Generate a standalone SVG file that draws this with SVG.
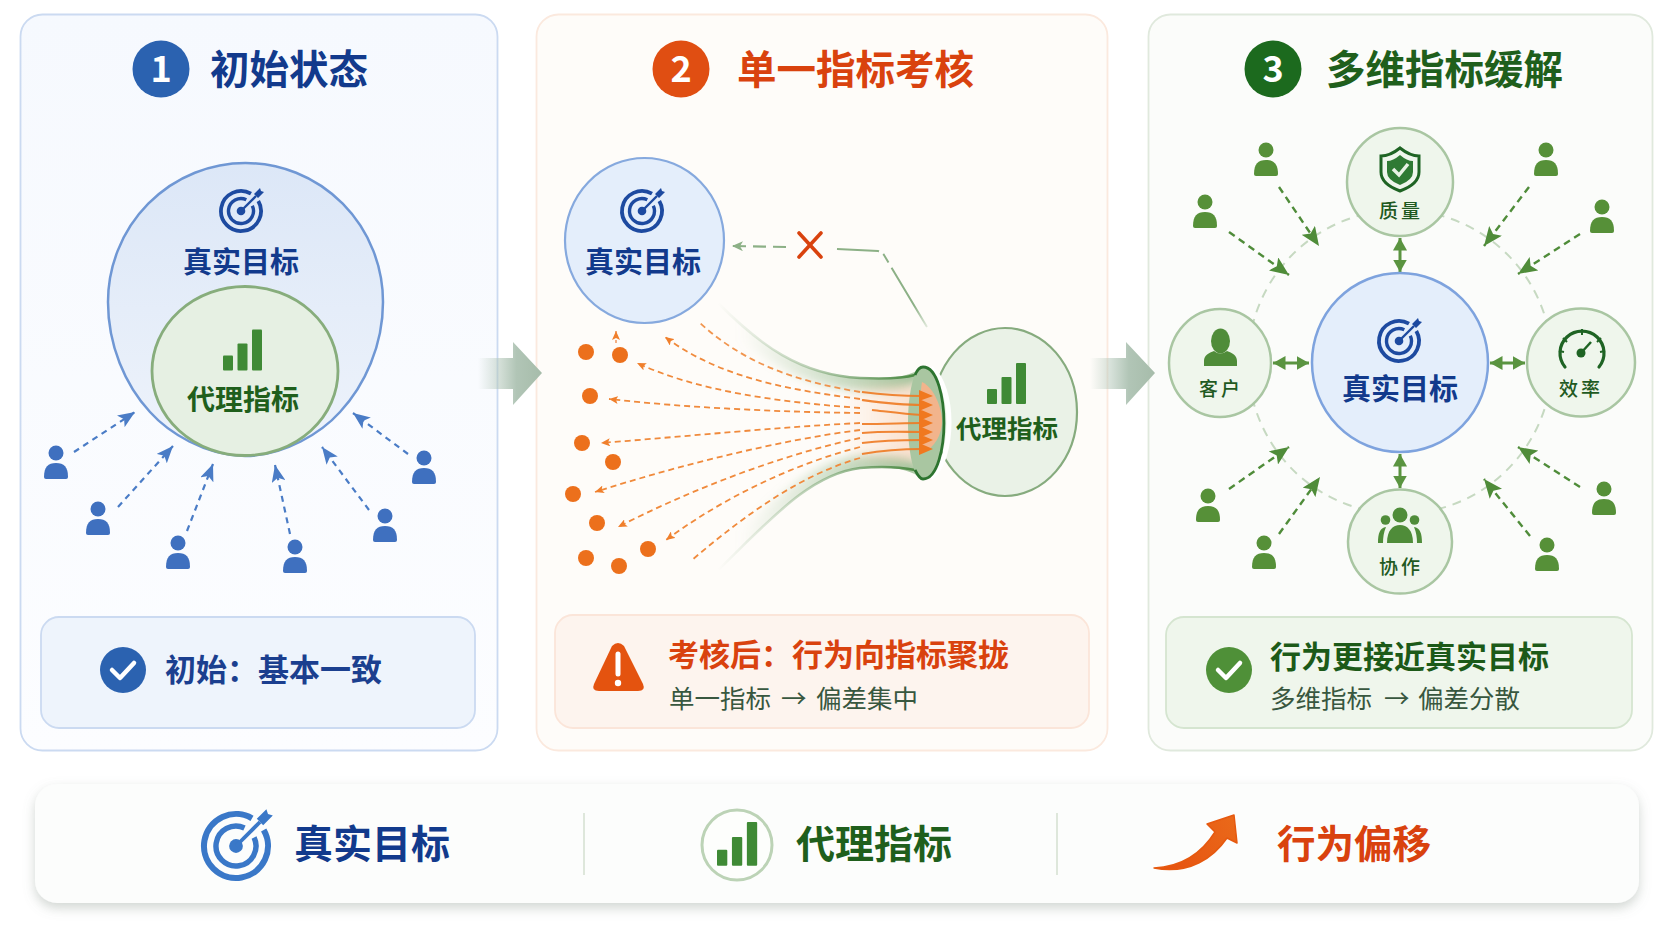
<svg xmlns="http://www.w3.org/2000/svg" width="1672" height="941" viewBox="0 0 1672 941">
<style>
text{font-family:"Noto Sans CJK SC","Noto Sans",sans-serif;font-weight:700}
.c{text-anchor:middle}
.num{font-size:36px;fill:#fff}
.navy{fill:#123a8c}.dgreen{fill:#1f5f1c}.red{fill:#d9420e}
.t1{font-size:39.5px}.t2{font-size:29px}.t3{font-size:31px}
.sub{font-size:25.5px;font-weight:400;fill:#38573f}
.sat{font-size:19px;letter-spacing:3px;font-weight:500;fill:#1f5a22}
.pb{color:#3f70bf}.pg{color:#569038}
.lb{fill:none;stroke:#4a7cc6;stroke-width:2.2;stroke-dasharray:6 5;marker-end:url(#ab)}
.lg{fill:none;stroke:#4f8c39;stroke-width:2.4;stroke-dasharray:7 5;marker-end:url(#ag)}
.lo{fill:none;stroke:#f08a3c;stroke-width:1.800;stroke-dasharray:6 4}
.so{fill:none;stroke:#ee7a22;stroke-width:2.1;opacity:.9}
.dbl{fill:none;stroke:#5a9440;stroke-width:3;marker-start:url(#ad);marker-end:url(#ad)}
.sc{fill:#eff6ec;stroke:#a9c6a2;stroke-width:2.5}
.dot{fill:#ec701c}
</style>
<defs>
<linearGradient id="g1" x1="0" y1="0" x2="0" y2="1"><stop offset="0" stop-color="#f6f9fe"/><stop offset="1" stop-color="#fcfdff"/></linearGradient>
<linearGradient id="blob" x1="0" y1="0" x2="0" y2="1"><stop offset="0" stop-color="#dce7f7"/><stop offset="1" stop-color="#eef3fb"/></linearGradient>
<linearGradient id="pa1" gradientUnits="userSpaceOnUse" x1="478" y1="0" x2="542" y2="0"><stop offset="0" stop-color="#b4c8bb" stop-opacity="0"/><stop offset=".6" stop-color="#b1c5b6"/><stop offset="1" stop-color="#a6bcaa"/></linearGradient>
<linearGradient id="pa2" gradientUnits="userSpaceOnUse" x1="1090" y1="0" x2="1155" y2="0"><stop offset="0" stop-color="#b4c8bb" stop-opacity="0"/><stop offset=".6" stop-color="#b1c5b6"/><stop offset="1" stop-color="#a6bcaa"/></linearGradient>
<linearGradient id="edge" gradientUnits="userSpaceOnUse" x1="718" y1="0" x2="916" y2="0"><stop offset="0" stop-color="#7fa878" stop-opacity="0"/><stop offset=".45" stop-color="#7fa878" stop-opacity=".5"/><stop offset="1" stop-color="#4b8a43"/></linearGradient>
<linearGradient id="band" gradientUnits="userSpaceOnUse" x1="740" y1="0" x2="916" y2="0"><stop offset="0" stop-color="#a9c8a2" stop-opacity="0"/><stop offset="1" stop-color="#a3c29b"/></linearGradient>
<linearGradient id="glow" gradientUnits="userSpaceOnUse" x1="840" y1="0" x2="925" y2="0"><stop offset="0" stop-color="#f6b488" stop-opacity="0"/><stop offset="1" stop-color="#f3b48a" stop-opacity=".45"/></linearGradient>
<linearGradient id="link" gradientUnits="userSpaceOnUse" x1="837" y1="249" x2="927" y2="327"><stop offset="0" stop-color="#8cb086"/><stop offset=".8" stop-color="#8cb086"/><stop offset="1" stop-color="#8cb086" stop-opacity=".25"/></linearGradient>
<linearGradient id="swoosh" gradientUnits="userSpaceOnUse" x1="1155" y1="869" x2="1238" y2="815"><stop offset="0" stop-color="#e6500f"/><stop offset="1" stop-color="#ea6a1a"/></linearGradient>
<filter id="soft" x="-20%" y="-20%" width="140%" height="140%"><feGaussianBlur stdDeviation="5"/></filter>
<filter id="lift" x="-5%" y="-20%" width="110%" height="150%"><feDropShadow dx="0" dy="5" stdDeviation="6" flood-color="#7c8a80" flood-opacity=".35"/></filter>
<clipPath id="funnelClip"><path d="M718,303C760,345 800,375 860,378C885,379 905,378 918,370L918,476C905,468 885,466 860,468C810,474 770,520 718,570Z"/></clipPath>
<marker id="ab" markerUnits="userSpaceOnUse" markerWidth="18" markerHeight="14" refX="17" refY="7" orient="auto"><path d="M0,0L17,7L0,14L4,7Z" fill="#4a7cc6"/></marker>
<marker id="ag" markerUnits="userSpaceOnUse" markerWidth="20" markerHeight="16" refX="19" refY="8" orient="auto"><path d="M0,0L19,8L0,16L4,8Z" fill="#4f8c39"/></marker>
<marker id="ad" markerUnits="userSpaceOnUse" markerWidth="13" markerHeight="14" refX="12.500" refY="7" orient="auto-start-reverse"><path d="M0,0L12.500,7L0,14Z" fill="#5a9440"/></marker>
<marker id="ao" markerUnits="userSpaceOnUse" markerWidth="10" markerHeight="8" refX="9" refY="4" orient="auto"><path d="M0,0L9,4L0,8L2,4Z" fill="#f07f2c"/></marker>
<marker id="ax" markerUnits="userSpaceOnUse" markerWidth="12" markerHeight="10" refX="11" refY="5" orient="auto"><path d="M0,0L11,5L0,10L3,5Z" fill="#8cb086"/></marker>
<g id="person"><circle r="7.500" fill="currentColor"/><path d="M-12,24C-12,14 -8,10 0,10C8,10 12,14 12,24Q12,26 10,26H-10Q-12,26 -12,24Z" fill="currentColor"/></g>
<g id="target" fill="none" stroke="currentColor">
<path d="M10,-17.300A20,20 0 1 0 17.300,-10" stroke-width="3.800"/>
<path d="M5.300,-11.300A12.500,12.500 0 1 0 11.300,-5.300" stroke-width="3.400"/>
<circle r="4.300" fill="currentColor" stroke="none"/>
<path d="M0,0L15,-15" stroke-width="2.400"/>
<path d="M13,-17L19,-23L20,-20L23,-19L17,-13Z" fill="currentColor" stroke="none"/>
</g>
<g id="bars" fill="#3f8a35"><rect x="0" y="26" width="10" height="15" rx="1"/><rect x="14.500" y="14" width="10" height="27" rx="1"/><rect x="29" y="0" width="10" height="41" rx="1"/></g>
</defs>

<rect width="1672" height="941" fill="#fff"/>

<!-- column backgrounds -->
<rect id="panel-1" x="20.500" y="14.500" width="477" height="736" rx="22" fill="url(#g1)" stroke="#cbdaf1" stroke-width="1.800"/>
<rect id="panel-2" x="536.500" y="14.500" width="571" height="736" rx="22" fill="#fefcf9" stroke="#fbe9de" stroke-width="1.800"/>
<rect id="panel-3" x="1148.500" y="14.500" width="504" height="736" rx="22" fill="#fbfcfa" stroke="#e0e9dd" stroke-width="1.800"/>

<!-- column headers -->
<g id="head-1"><circle cx="161" cy="69" r="28.500" fill="#2b62b0"/><text class="c num" x="161" y="82">1</text><text class="navy t1" x="210" y="84">初始状态</text></g>
<g id="head-2"><circle cx="681" cy="69" r="28.500" fill="#e04e12"/><text class="c num" x="681" y="82">2</text><text class="red t1" x="737" y="84">单一指标考核</text></g>
<g id="head-3"><circle cx="1273" cy="69" r="28.500" fill="#1c6a1e"/><text class="c num" x="1273" y="82">3</text><text class="dgreen t1" x="1326" y="84">多维指标缓解</text></g>

<!-- transition arrows between columns -->
<g id="step-1-2"><path d="M478,358H513V342L542,373L513,405V389H478Z" fill="url(#pa1)"/></g>
<g id="step-2-3"><path d="M1090,358H1126V342L1155,373L1126,405V389H1090Z" fill="url(#pa2)"/></g>

<!-- column 1: target and proxy still overlap -->
<g id="n1-target">
<path d="M108,302A137.500,139 0 0 1 383,302C383,345 365,385 340,412C322,432 285,456 245,456C205,456 168,432 150,412C125,385 108,345 108,302Z" fill="url(#blob)" stroke="#6f97d4" stroke-width="2.500"/>
<use href="#target" x="241" y="211" style="color:#1d4aa0"/>
<text class="c navy t2" x="241" y="272.500">真实目标</text>
</g>
<g id="n1-proxy">
<ellipse cx="245" cy="371" rx="93" ry="84.500" fill="#e6f0e3" stroke="#87ad7c" stroke-width="2.800"/>
<use href="#bars" x="223" y="329.500"/>
<text class="c dgreen" x="243" y="410" font-size="28">代理指标</text>
</g>
<g id="n1-people" class="pb">
<use href="#person" x="56" y="453"/><use href="#person" x="98" y="509"/><use href="#person" x="178" y="543"/><use href="#person" x="295" y="547"/><use href="#person" x="385" y="516"/><use href="#person" x="424" y="458"/>
</g>
<g id="n1-connectors">
<path class="lb" d="M74,452L135,412"/><path class="lb" d="M118,507L173,446"/><path class="lb" d="M187,531L213,464"/><path class="lb" d="M290,534L275,465"/><path class="lb" d="M369,510L322,447"/><path class="lb" d="M408,454L353,413"/>
</g>
<g id="n1-note">
<rect x="41" y="617" width="434" height="111" rx="18" fill="#eef4fc" stroke="#cbdaf1" stroke-width="1.800"/>
<circle cx="123" cy="670" r="23" fill="#2b62b0"/>
<path d="M112,670L120,678L134,663" fill="none" stroke="#fff" stroke-width="4.500" stroke-linecap="round" stroke-linejoin="round"/>
<text x="165" y="681" class="t3" fill="#1b3f8f">初始&#xFF1A;基本一致</text>
</g>

<!-- column 2: behaviour pulled towards the single metric -->
<g id="n2-target">
<ellipse cx="644.500" cy="240.500" rx="79.500" ry="82.500" fill="#e4eefb" stroke="#86a9de" stroke-width="2.200"/>
<use href="#target" x="642" y="211" style="color:#1d4aa0"/>
<text class="c navy t2" x="643" y="272.500">真实目标</text>
</g>
<g id="n2-proxy">
<ellipse cx="1005" cy="412" rx="72" ry="84" fill="#eaf2e7" stroke="#86ab7e" stroke-width="2.200"/>
<use href="#bars" x="987" y="363"/>
<text class="c dgreen" x="1007" y="438" font-size="25.500">代理指标</text>
</g>
<g id="n2-funnel">
<g clip-path="url(#funnelClip)">
<path d="M718,303C760,345 800,375 860,378C885,379 905,378 918,370M918,476C905,468 885,466 860,468C810,474 770,520 718,570" fill="none" stroke="url(#band)" stroke-width="24" filter="url(#soft)"/>
<rect x="840" y="385" width="80" height="76" fill="url(#glow)" filter="url(#soft)"/>
</g>
<path d="M718,303C760,345 800,375 860,378C885,379 905,378 915,375M915,470C905,468 885,466 860,468C810,474 770,520 718,570" fill="none" stroke="url(#edge)" stroke-width="2.500"/>
<path d="M923,367C913,367 908,396 908,423C908,450 913,479 923,479C938,479 944,446 944,423C944,400 938,367 923,367Z" fill="#a9c6a1"/>
<path d="M922,382C935,388 942,410 942,421C942,434 935,448 922,453C919,436 919,400 922,382Z" fill="#f2b48c"/>
<path d="M929,368C941,378 947,400 947,422C947,446 941,468 929,478" fill="none" stroke="#fff" stroke-width="5" transform="translate(2,0)"/>
<path d="M915,375C918,368 921,367 923,367C938,367 944,400 944,423C944,446 938,479 923,479C921,479 918,476 915,470" fill="none" stroke="#2d7430" stroke-width="2.800"/>
</g>
<g id="n2-dots">
<circle class="dot" cx="586" cy="352" r="8"/><circle class="dot" cx="620" cy="355" r="8"/><circle class="dot" cx="590" cy="396" r="8"/><circle class="dot" cx="582" cy="443" r="8"/><circle class="dot" cx="613" cy="462" r="8"/><circle class="dot" cx="573" cy="494" r="8"/><circle class="dot" cx="597" cy="523" r="8"/><circle class="dot" cx="648" cy="549" r="8"/><circle class="dot" cx="586" cy="558" r="8"/><circle class="dot" cx="619" cy="566" r="8"/>
</g>
<g id="n2-connectors">
<path d="M786,247L732,246" fill="none" stroke="#8cb086" stroke-width="2.200" stroke-dasharray="13 7" marker-end="url(#ax)"/>
<path d="M837,249L878,251Q882,252 884,255L927,327" fill="none" stroke="url(#link)" stroke-width="2" stroke-dasharray="42 5 10 6 90"/>
<path d="M799,233L821,257M821,233L799,257" stroke="#d9420e" stroke-width="3.600" stroke-linecap="round"/>
<path d="M616,343L616,331" fill="none" stroke="#f3a878" stroke-width="1.800" stroke-dasharray="3 2" marker-end="url(#ao)"/>
<path class="lo" d="M860,392C800,382 745,365 699,322" opacity=".9"/>
<path class="lo" marker-end="url(#ao)" d="M860,399C790,390 720,378 665,337"/>
<path class="lo" marker-end="url(#ao)" d="M860,408C780,402 700,392 637,363"/>
<path class="lo" marker-end="url(#ao)" d="M860,413C780,412 690,408 609,399"/>
<path class="lo" marker-end="url(#ao)" d="M860,423C780,427 690,436 601,443"/>
<path class="lo" marker-end="url(#ao)" d="M860,430C780,440 680,465 595,492"/>
<path class="lo" marker-end="url(#ao)" d="M860,438C780,455 690,490 618,527"/>
<path class="lo" marker-end="url(#ao)" d="M860,447C790,465 720,500 666,540"/>
<path class="lo" d="M860,458C800,475 745,515 692,560"/>
<path class="so" d="M862,392C885,395 900,396 922,396"/><path class="so" d="M862,400C885,403 900,405 922,405"/><path class="so" d="M872,410C890,412 905,414 922,415"/><path class="so" d="M862,424C885,424 905,423 922,423"/><path class="so" d="M862,433C885,431 905,432 922,432"/><path class="so" d="M862,443C885,440 905,440 922,440"/><path class="so" d="M862,454C885,450 905,449 922,449"/>
<path d="M919,390L933,396L919,401ZM919,399L933,405L919,411ZM919,409L933,415L919,421ZM919,417L933,423L919,429ZM919,426L933,432L919,438ZM919,434L933,440L919,446ZM919,443L933,449L919,455Z" fill="#f0781f"/>
</g>
<g id="n2-note">
<rect x="555" y="615" width="534" height="113" rx="18" fill="#fdf4ee" stroke="#fbe5d9" stroke-width="1.800"/>
<path d="M612,646Q618,640 624,646L643,684Q646,691 638,691H599Q591,691 594,684Z" fill="#e4530f"/>
<path d="M618,654V674" stroke="#fff" stroke-width="5" stroke-linecap="round"/><circle cx="618" cy="683" r="3.200" fill="#fff"/>
<text x="668" y="666" class="red t3">考核后&#xFF1A;行为向指标聚拢</text>
<text y="707.500" class="sub"><tspan x="669">单一指标</tspan><tspan x="781">→</tspan><tspan x="816">偏差集中</tspan></text>
</g>

<!-- column 3: several metrics around the target -->
<g id="n3-connectors">
<circle cx="1400" cy="362" r="152" fill="none" stroke="#c6d9c1" stroke-width="2" stroke-dasharray="9 7"/>
<path class="dbl" d="M1400,238V272"/><path class="dbl" d="M1400,454V488"/><path class="dbl" d="M1273,363H1309"/><path class="dbl" d="M1490,363H1525"/>
<path class="lg" d="M1279,187L1319,246"/><path class="lg" d="M1229,232L1289,275"/><path class="lg" d="M1529,187L1484,246"/><path class="lg" d="M1580,234L1518,274"/><path class="lg" d="M1229,489L1289,447"/><path class="lg" d="M1279,534L1320,477"/><path class="lg" d="M1580,487L1518,447"/><path class="lg" d="M1530,536L1484,479"/>
</g>
<g id="n3-people" class="pg">
<use href="#person" x="1266" y="150"/><use href="#person" x="1205" y="202"/><use href="#person" x="1546" y="150"/><use href="#person" x="1602" y="207"/><use href="#person" x="1208" y="496"/><use href="#person" x="1264" y="543"/><use href="#person" x="1604" y="489"/><use href="#person" x="1547" y="545"/>
</g>
<g id="n3-target">
<ellipse cx="1400" cy="362.500" rx="88" ry="89.500" fill="#e4eefb" stroke="#7ea3de" stroke-width="2.500"/>
<use href="#target" x="1399" y="341" style="color:#1d4aa0"/>
<text class="c navy t2" x="1400" y="400">真实目标</text>
</g>
<g id="n3-quality">
<ellipse class="sc" cx="1400" cy="182" rx="53" ry="54"/>
<path d="M1400,148Q1410,156 1419,156V172Q1419,184 1400,191Q1381,184 1381,172V156Q1390,156 1400,148Z" fill="none" stroke="#1f6424" stroke-width="3"/>
<path d="M1400,155Q1407,161 1413,161V172Q1413,180 1400,185Q1387,180 1387,172V161Q1393,161 1400,155Z" fill="#2f7a34"/>
<path d="M1393,169L1399,175L1408,164" fill="none" stroke="#e9f2e5" stroke-width="3.500"/>
<text class="c sat" x="1401" y="218">质量</text>
</g>
<g id="n3-customer">
<ellipse class="sc" cx="1220" cy="363" rx="51" ry="54"/>
<ellipse cx="1220.500" cy="341" rx="9.500" ry="12.500" fill="#4f8c39"/>
<path d="M1204,366V361C1204,355 1209,353 1214,351Q1220,356 1227,351C1232,353 1237,355 1237,361V366Z" fill="#4f8c39"/>
<text class="c sat" x="1221" y="396">客户</text>
</g>
<g id="n3-efficiency">
<circle class="sc" cx="1581" cy="362.500" r="54"/>
<path d="M1565,367A22,22 0 1 1 1599,367" fill="none" stroke="#1f6424" stroke-width="3.200" stroke-linecap="round"/>
<path d="M1582,329V335M1563,338L1567,342M1601,338L1597,342M1559,351L1564,352M1605,351L1600,352" stroke="#1f6424" stroke-width="2"/>
<circle cx="1581" cy="353" r="4.500" fill="#1f6424"/><path d="M1581,353L1591,342" stroke="#1f6424" stroke-width="2.500"/>
<text class="c sat" x="1581" y="396">效率</text>
</g>
<g id="n3-collab">
<circle class="sc" cx="1400" cy="541.500" r="52"/>
<circle cx="1400" cy="515" r="7.500" fill="#4f8c39"/><circle cx="1385.500" cy="520" r="4.800" fill="#4f8c39"/><circle cx="1414.500" cy="520" r="4.800" fill="#4f8c39"/>
<path d="M1387,543C1387,530 1393,525 1400,525C1407,525 1413,530 1413,543Z" fill="#4f8c39"/>
<path d="M1378,543C1378,533 1380,528 1386,527Q1383,534 1383,543ZM1422,543C1422,533 1420,528 1414,527Q1417,534 1417,543Z" fill="#4f8c39"/>
<text class="c sat" x="1401" y="574">协作</text>
</g>
<g id="n3-note">
<rect x="1166" y="617" width="466" height="111" rx="18" fill="#eff6ec" stroke="#d5e5d0" stroke-width="1.800"/>
<circle cx="1229" cy="670" r="23" fill="#4f9038"/>
<path d="M1218,670L1226,678L1240,663" fill="none" stroke="#fff" stroke-width="4.500" stroke-linecap="round" stroke-linejoin="round"/>
<text x="1270" y="668" class="t3" fill="#1c5a18">行为更接近真实目标</text>
<text y="707.500" class="sub"><tspan x="1270">多维指标</tspan><tspan x="1384">→</tspan><tspan x="1418">偏差分散</tspan></text>
</g>

<!-- legend bar -->
<g id="legend">
<rect x="35" y="784" width="1604" height="119" rx="22" fill="#fcfdfc" filter="url(#lift)"/>
<path d="M584,813V875M1057,813V875" stroke="#d3dfcf" stroke-width="1.500"/>
<g id="legend-target">
<use href="#target" transform="translate(236,846) scale(1.600)" style="color:#3a78c8"/>
<text x="294" y="858" class="navy" font-size="39">真实目标</text>
</g>
<g id="legend-proxy">
<circle cx="737" cy="845" r="35" fill="#fdfefc" stroke="#bcd3b6" stroke-width="3"/>
<use href="#bars" transform="translate(717,822) scale(1.030,1.070)"/>
<text x="796" y="858" class="dgreen" font-size="39">代理指标</text>
</g>
<g id="legend-drift">
<path d="M1154,868C1178,867 1200,856 1215,832L1207,824L1234,815L1237,843L1227,838C1214,857 1190,875 1154,868Z" fill="url(#swoosh)" stroke="#e6590f" stroke-width="1.500" stroke-linejoin="round"/>
<text x="1277" y="858" class="red" font-size="38.500">行为偏移</text>
</g>
</g>
</svg>
